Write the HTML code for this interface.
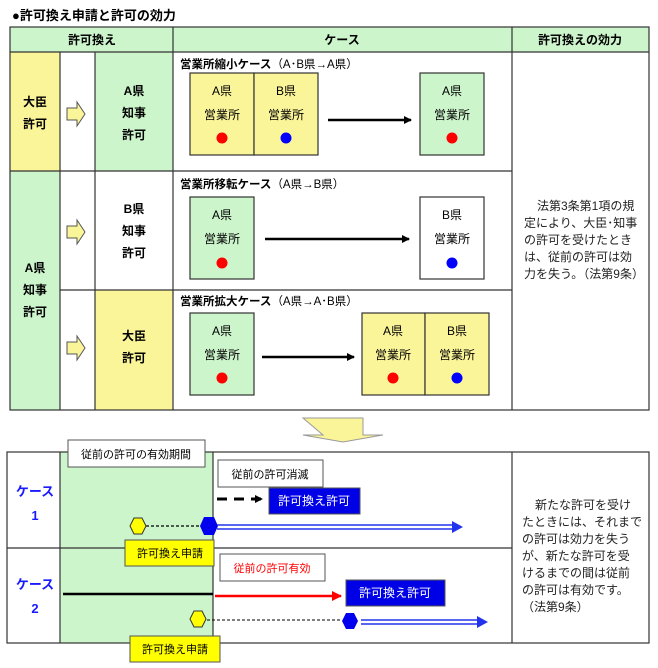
<!DOCTYPE html>
<html><head><meta charset="utf-8"><style>
body{margin:0;background:#fff}
svg{display:block}
text{font-family:"Liberation Sans","Noto Sans CJK JP",sans-serif}
</style></head><body>
<svg width="658" height="668" viewBox="0 0 658 668" xmlns="http://www.w3.org/2000/svg">
<defs>
<marker id="ab" markerWidth="8" markerHeight="8" refX="7" refY="4" orient="auto" markerUnits="userSpaceOnUse"><path d="M0,0 L8,4 L0,8z" fill="#000"/></marker>
<marker id="ar" markerWidth="10" markerHeight="10" refX="9" refY="5" orient="auto" markerUnits="userSpaceOnUse"><path d="M0,0 L10,5 L0,10z" fill="#f00"/></marker>
</defs>
<text x="12" y="20" font-size="13" font-weight="bold">●許可換え申請と許可の効力</text>
<rect x="10" y="27" width="639" height="25" fill="#ccf5cc"/>
<rect x="10" y="52" width="50" height="119" fill="#fbf59a"/>
<rect x="10" y="171" width="50" height="239" fill="#ccf5cc"/>
<rect x="95" y="52" width="78" height="119" fill="#ccf5cc"/>
<rect x="95" y="290" width="78" height="120" fill="#fbf59a"/>
<g stroke="#333" stroke-width="1.2" fill="none">
<rect x="10" y="27" width="639" height="383"/>
<line x1="10" y1="52" x2="649" y2="52"/>
<line x1="60" y1="52" x2="60" y2="410"/>
<line x1="95" y1="52" x2="95" y2="410"/>
<line x1="173" y1="27" x2="173" y2="410"/>
<line x1="512" y1="27" x2="512" y2="410"/>
<line x1="10" y1="171" x2="512" y2="171"/>
<line x1="60" y1="290" x2="512" y2="290"/>
</g>
<g font-size="12" font-weight="bold" text-anchor="middle">
<text x="92" y="44">許可換え</text><text x="342" y="44">ケース</text><text x="580" y="44">許可換えの効力</text>
<text x="35" y="106">大臣</text><text x="35" y="128">許可</text>
<text x="35" y="272">A県</text><text x="35" y="294">知事</text><text x="35" y="316">許可</text>
<text x="134" y="95">A県</text><text x="134" y="117">知事</text><text x="134" y="139">許可</text>
<text x="134" y="213">B県</text><text x="134" y="235">知事</text><text x="134" y="257">許可</text>
<text x="134" y="340">大臣</text><text x="134" y="362">許可</text>
</g>
<g fill="#fbf59a" stroke="#555" stroke-width="1">
<path d="M67,108 h10 v-6 l8,12 l-8,12 v-6 h-10z"/>
<path d="M67,226 h10 v-6 l8,12 l-8,12 v-6 h-10z"/>
<path d="M67,342 h10 v-6 l8,12 l-8,12 v-6 h-10z"/>
</g>
<g font-size="11.5">
<text x="180" y="68" font-weight="bold">営業所縮小ケース<tspan font-weight="normal">（A･B県→A県）</tspan></text>
<text x="180" y="188" font-weight="bold">営業所移転ケース<tspan font-weight="normal">（A県→B県）</tspan></text>
<text x="180" y="305" font-weight="bold">営業所拡大ケース<tspan font-weight="normal">（A県→A･B県）</tspan></text>
</g>
<g stroke="#333" stroke-width="1.2">
<rect x="190" y="73" width="64" height="82" fill="#fbf59a"/><rect x="254" y="73" width="64" height="82" fill="#fbf59a"/>
<rect x="420" y="73" width="64" height="82" fill="#ccf5cc"/>
<rect x="190" y="197" width="64" height="82" fill="#ccf5cc"/>
<rect x="420" y="197" width="64" height="82" fill="#fff"/>
<rect x="190" y="313" width="64" height="82" fill="#ccf5cc"/>
<rect x="362" y="313" width="63" height="82" fill="#fbf59a"/><rect x="425" y="313" width="64" height="82" fill="#fbf59a"/>
</g>
<g font-size="12" text-anchor="middle">
<text x="222" y="95">A県</text><text x="222" y="119">営業所</text>
<text x="286" y="95">B県</text><text x="286" y="119">営業所</text>
<text x="452" y="95">A県</text><text x="452" y="119">営業所</text>
<text x="222" y="219">A県</text><text x="222" y="243">営業所</text>
<text x="452" y="219">B県</text><text x="452" y="243">営業所</text>
<text x="222" y="335">A県</text><text x="222" y="359">営業所</text>
<text x="393" y="335">A県</text><text x="393" y="359">営業所</text>
<text x="457" y="335">B県</text><text x="457" y="359">営業所</text>
</g>
<g>
<circle cx="222" cy="138" r="5.5" fill="#f00"/><circle cx="286" cy="138" r="5.5" fill="#00f"/><circle cx="452" cy="138" r="5.5" fill="#f00"/>
<circle cx="222" cy="263" r="5.5" fill="#f00"/><circle cx="452" cy="263" r="5.5" fill="#00f"/>
<circle cx="222" cy="378" r="5.5" fill="#f00"/><circle cx="393" cy="378" r="5.5" fill="#f00"/><circle cx="457" cy="378" r="5.5" fill="#00f"/>
</g>
<g stroke="#000" stroke-width="2.5" marker-end="url(#ab)">
<line x1="328" y1="120" x2="411" y2="120"/>
<line x1="265" y1="239" x2="409" y2="239"/>
<line x1="262" y1="357" x2="354" y2="357"/>
</g>
<g font-size="12" fill="#222">
<text x="537" y="210">法第3条第1項の規</text>
<text x="524" y="227">定により、大臣･知事</text>
<text x="524" y="244">の許可を受けたとき</text>
<text x="524" y="261">は、従前の許可は効</text>
<text x="524" y="278">力を失う。（法第9条）</text>
</g>
<path d="M303,418 h60 v17 h20 l-40,7 l-40,-7 h20z" fill="#fbf59a" stroke="#999" stroke-width="1"/>
<rect x="60" y="452" width="153" height="191" fill="#ccf5cc"/>
<g stroke="#333" stroke-width="1.2" fill="none">
<rect x="7" y="452" width="642" height="191"/>
<line x1="60" y1="452" x2="60" y2="643"/>
<line x1="213" y1="452" x2="213" y2="643"/>
<line x1="512" y1="452" x2="512" y2="643"/>
<line x1="7" y1="548" x2="512" y2="548"/>
</g>
<g font-size="13" font-weight="bold" fill="#1a1aff" text-anchor="middle">
<text x="35" y="496">ケース</text><text x="35" y="520">1</text>
<text x="35" y="589">ケース</text><text x="35" y="613">2</text>
</g>
<g stroke="#555" stroke-width="1">
<rect x="68" y="440" width="137" height="27" fill="#fff"/>
<rect x="218" y="460" width="105" height="27" fill="#fff"/>
<rect x="220" y="554" width="105" height="27" fill="#fff"/>
<rect x="269" y="488" width="91" height="26" fill="#0000e6"/>
<rect x="346" y="580" width="99" height="26" fill="#0000e6"/>
<rect x="125" y="540" width="89" height="26" fill="#ffff00"/>
<rect x="130" y="636" width="90" height="26" fill="#ffff00"/>
</g>
<g font-size="11" text-anchor="middle">
<text x="136" y="458">従前の許可の有効期間</text>
<text x="270" y="478">従前の許可消滅</text>
<text x="272" y="572" fill="#f00">従前の許可有効</text>
<text x="314" y="505" fill="#fff" font-size="12">許可換え許可</text>
<text x="395" y="597" fill="#fff" font-size="12">許可換え許可</text>
<text x="170" y="557">許可換え申請</text>
<text x="175" y="653">許可換え申請</text>
</g>
<line x1="217" y1="499" x2="262" y2="499" stroke="#000" stroke-width="3" stroke-dasharray="10,7" marker-end="url(#ab)"/>
<line x1="146" y1="526" x2="200" y2="526" stroke="#000" stroke-width="1.2" stroke-dasharray="3,2"/>
<line x1="207" y1="620" x2="342" y2="620" stroke="#000" stroke-width="1" stroke-dasharray="3,2"/>
<line x1="63" y1="594" x2="213" y2="594" stroke="#000" stroke-width="2.5"/>
<line x1="215" y1="596" x2="341" y2="596" stroke="#f00" stroke-width="2.5" marker-end="url(#ar)"/>
<path d="M130,526 l4,-8 h8 l4,8 l-4,8 h-8z" fill="#ffff00" stroke="#333"/>
<path d="M190,619 l4,-8 h8 l4,8 l-4,8 h-8z" fill="#ffff00" stroke="#333"/>
<path d="M200,526 l4,-9 h10 l4,9 l-4,9 h-10z" fill="#0000ee"/>
<path d="M342,621 l4,-8 h8 l4,8 l-4,8 h-8z" fill="#0000ee"/>
<g stroke="#2233ee" stroke-width="1.5">
<line x1="217" y1="525" x2="455" y2="525"/><line x1="217" y1="529" x2="455" y2="529"/>
<line x1="361" y1="620" x2="480" y2="620"/><line x1="361" y1="624" x2="480" y2="624"/>
</g>
<path d="M452,521 l11,6 l-11,6z" fill="#2233ee"/>
<path d="M477,616 l11,6 l-11,6z" fill="#2233ee"/>
<g font-size="12" fill="#222">
<text x="535" y="509">新たな許可を受け</text>
<text x="522" y="526">たときには、それまで</text>
<text x="522" y="543">の許可は効力を失う</text>
<text x="522" y="560">が、新たな許可を受</text>
<text x="522" y="577">けるまでの間は従前</text>
<text x="522" y="594">の許可は有効です。</text>
<text x="522" y="611">（法第9条）</text>
</g>
</svg>
</body></html>
